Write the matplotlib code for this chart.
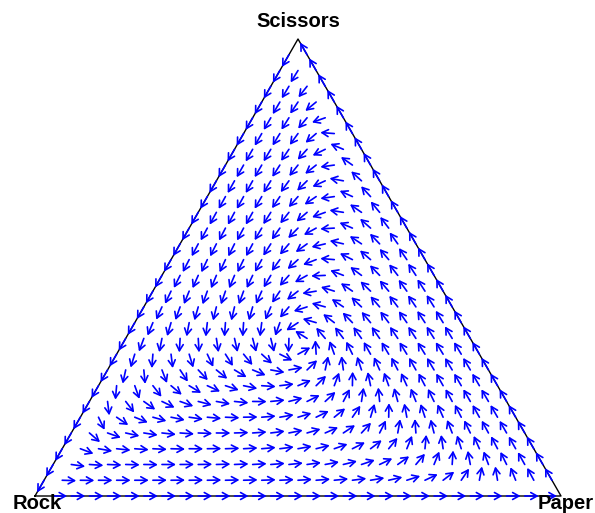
import numpy as np
import matplotlib.pyplot as plt

# strategies at the corners of the simplex (Rock left, Paper right, Scissors top)
strategies = ["Rock", "Paper", "Scissors"]

# payoff of row strategy against column strategy (order: Rock, Paper, Scissors)
# win = 1, tie = 0, loss = 0
payoff_rock = [0, 0, 1]
payoff_paper = [1, 0, 0]
payoff_scissors = [0, 1, 0]

grid_steps = 29

A = np.array([payoff_rock, payoff_paper, payoff_scissors], dtype=float)
h = np.sqrt(3) / 2
corners = np.array([[0.0, 0.0], [1.0, 0.0], [0.5, h]])

# pixels per data unit (triangle spans 526 px wide, 457 px high)
sx, sy = 526, 457 / h
W, H = 595, 513

fig = plt.figure(figsize=(W / 100, H / 100), dpi=100)
ax = fig.add_axes([0, 0, 1, 1])
ax.set_xlim(-35 / sx, (W - 35) / sx)
ax.set_ylim(-(H - 496) / sy, 496 / sy)
ax.axis("off")

# triangle outline
tri = np.vstack([corners, corners[:1]])
ax.plot(tri[:, 0], tri[:, 1], color="black", lw=1, zorder=1)

arrow_px = 14

for p in range(grid_steps + 1):
    for s in range(grid_steps + 1 - p):
        r = grid_steps - p - s
        x = np.array([r, p, s], dtype=float) / grid_steps
        fit = A @ x
        dx = x * (fit - x @ fit)  # replicator dynamics
        vx = dx[1] + 0.5 * dx[2]
        vy = dx[2] * h
        norm = np.hypot(vx * sx, vy * sy)
        if norm < 1e-12:
            continue
        px, py = x[1] + 0.5 * x[2], x[2] * h
        ex = px + vx / norm * arrow_px
        ey = py + vy / norm * arrow_px
        ax.annotate("", xy=(ex, ey), xytext=(px, py),
                    arrowprops=dict(arrowstyle="->,head_length=0.45,head_width=0.25",
                                    color="blue", lw=1.2, shrinkA=0, shrinkB=0),
                    zorder=2)

font = dict(family="Liberation Sans", fontsize=14.5, fontweight="bold")
fig.text(37.5 / W, 1 - 494 / H, strategies[0], ha="center", va="top", **font)
fig.text(538 / W, 1 - 494 / H, strategies[1], ha="left", va="top", **font)
fig.text(298 / W, 1 - 27 / H, strategies[2], ha="center", va="baseline", **font)

fig.savefig("out.png", dpi=100)
